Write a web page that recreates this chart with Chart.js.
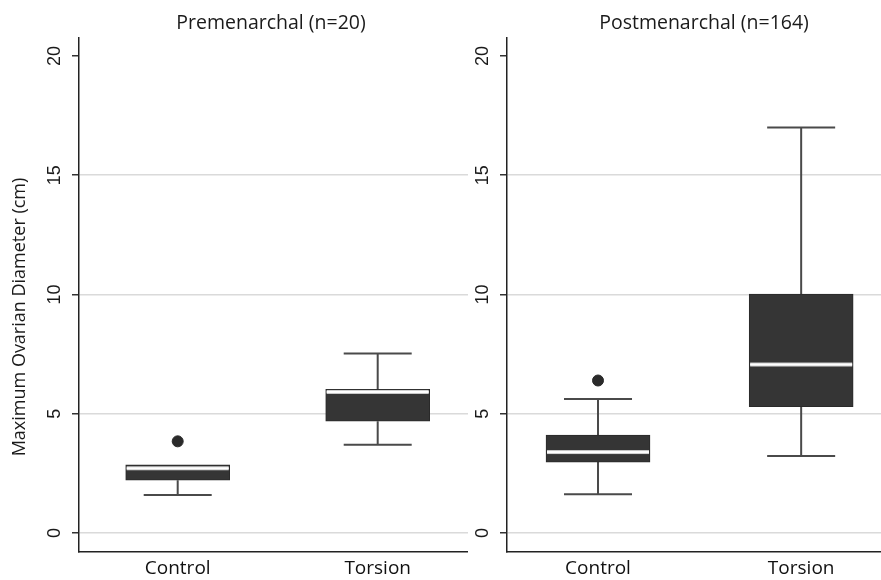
<!DOCTYPE html>
<html>
<head>
<meta charset="utf-8">
<script src="https://cdn.jsdelivr.net/npm/chart.js@4"></script>
<style>
  html, body { margin: 0; padding: 0; background: #fff; }
  #wrap { position: relative; width: 881px; height: 580px; }
  .panel { position: absolute; top: 0; }
</style>
</head>
<body>
<div id="wrap">
  <div class="panel" style="left:0"><canvas id="pre" width="468" height="580"></canvas></div>
  <div class="panel" style="left:468px"><canvas id="post" width="413" height="580"></canvas></div>
</div>
<script>
// datos
const groups = ['Control', 'Torsion'];
const yTicks = [0, 5, 10, 15, 20];

const preTitle = 'Premenarchal (n=20)';
const preMin = [1.59, 3.70];
const preQ1 = [2.21, 4.68];
const preMed = [2.71, 5.91];
const preQ3 = [2.85, 6.02];
const preMax = [2.85, 7.52];
const preOutGroup = [0];
const preOutValue = [3.84];

const postTitle = 'Postmenarchal (n=164)';
const postMin = [1.62, 3.23];
const postQ1 = [2.97, 5.29];
const postMed = [3.39, 7.06];
const postQ3 = [4.10, 10.01];
const postMax = [5.61, 17.0];
const postOutGroup = [0];
const postOutValue = [6.39];

const yTitle = 'Maximum Ovarian Diameter (cm)';

const boxColor = '#353535';
const lineColor = '#4a4a4a';
const textFont = '"Open Sans", sans-serif';

// bigotes y mediana
const boxPlugin = {
  id: 'boxExtras',
  beforeDatasetsDraw(chart, args, o) {
    const { ctx, scales: { x, y } } = chart;
    ctx.save();
    ctx.strokeStyle = lineColor;
    ctx.lineWidth = 2;
    o.q1.forEach((_, i) => {
      const cx = x.getPixelForValue(i);
      const segs = [[o.q3[i], o.max[i]], [o.q1[i], o.min[i]]];
      segs.forEach(([a, b]) => {
        if (a === b) return;
        const ya = y.getPixelForValue(a), yb = y.getPixelForValue(b);
        ctx.beginPath();
        ctx.moveTo(cx, ya);
        ctx.lineTo(cx, yb);
        ctx.moveTo(cx - o.capHalf, yb);
        ctx.lineTo(cx + o.capHalf, yb);
        ctx.stroke();
      });
    });
    ctx.restore();
  },
  afterDatasetsDraw(chart, args, o) {
    const { ctx, scales: { x, y } } = chart;
    ctx.save();
    o.med.forEach((m, i) => {
      const cx = x.getPixelForValue(i);
      const ym = y.getPixelForValue(m);
      ctx.fillStyle = '#cfcfcf';
      ctx.fillRect(cx - o.boxHalf + 1, ym - 2, o.boxHalf * 2 - 2, 4);
      ctx.fillStyle = '#ffffff';
      ctx.fillRect(cx - o.boxHalf + 1, ym - 1, o.boxHalf * 2 - 2, 2);
    });
    ctx.restore();
  }
};

// titulos y etiquetas rotadas
const textPlugin = {
  id: 'panelText',
  afterDraw(chart, args, o) {
    const { ctx, scales: { y } } = chart;
    ctx.save();
    ctx.fillStyle = '#1a1a1a';
    ctx.textAlign = 'center';
    ctx.textBaseline = 'middle';
    ctx.font = '19.5px ' + textFont;
    ctx.fillText(o.title, o.titleX, 23);

    ctx.font = '18px "Liberation Sans", Arial, sans-serif';
    yTicks.forEach(v => {
      ctx.save();
      ctx.translate(o.tickX, y.getPixelForValue(v));
      ctx.rotate(-Math.PI / 2);
      ctx.fillText(String(v), 0, 0);
      ctx.restore();
    });

    if (o.axisTitle) {
      ctx.font = '18px ' + textFont;
      ctx.translate(20, 317);
      ctx.rotate(-Math.PI / 2);
      ctx.fillText(o.axisTitle, 0, 0);
    }
    ctx.restore();
  }
};

function crearPanel(id, d) {
  const ctx = document.getElementById(id).getContext('2d');
  return new Chart(ctx, {
    type: 'bar',
    data: {
      datasets: [{
        label: 'box',
        data: d.q1.map((q, i) => ({ x: i, y: [q, d.q3[i]] })),
        backgroundColor: boxColor,
        borderColor: '#2a2a2a',
        borderWidth: 1,
        borderSkipped: false,
        barThickness: d.boxHalf * 2,
        order: 2
      }, {
        type: 'scatter',
        label: 'outliers',
        data: d.outGroup.map((g, i) => ({ x: g, y: d.outValue[i] })),
        backgroundColor: '#2a2a2a',
        borderColor: '#2a2a2a',
        pointRadius: 5.5,
        order: 1
      }]
    },
    options: {
      responsive: false,
      animation: false,
      layout: { autoPadding: false, padding: { top: 38, left: 0, right: 0, bottom: 0 } },
      plugins: {
        legend: { display: false },
        tooltip: { enabled: false },
        boxExtras: {
          q1: d.q1, q3: d.q3, med: d.med, min: d.min, max: d.max,
          boxHalf: d.boxHalf, capHalf: 34
        },
        panelText: { title: d.title, titleX: d.titleX, tickX: d.tickX, axisTitle: d.axisTitle }
      },
      scales: {
        x: {
          type: 'linear',
          offset: false,
          min: d.xMin,
          max: d.xMax,
          afterBuildTicks: s => { s.ticks = groups.map((g, i) => ({ value: i })); },
          afterFit: s => { s.height = 28; s.paddingLeft = 0; s.paddingRight = 0; },
          ticks: {
            callback: v => groups[v],
            font: { family: textFont, size: 19 },
            color: '#111',
            padding: 5,
            maxRotation: 0
          },
          grid: { display: false, drawTicks: false, tickLength: 0 },
          border: { display: true, color: '#222', width: 1.5 }
        },
        y: {
          min: -0.8,
          max: 20.75,
          afterBuildTicks: s => { s.ticks = yTicks.map(v => ({ value: v })); },
          afterFit: s => { s.width = d.yWidth; },
          ticks: { display: false },
          grid: {
            color: c => (c.tick && c.tick.value === 20) ? 'rgba(0,0,0,0)' : '#dadada',
            lineWidth: 1.5,
            tickLength: 7,
            tickColor: '#333',
            tickWidth: 1.5
          },
          border: { display: true, color: '#222', width: 1.5 }
        }
      }
    },
    plugins: [boxPlugin, textPlugin]
  });
}

crearPanel('pre', {
  title: preTitle, titleX: 271, tickX: 55, axisTitle: yTitle,
  q1: preQ1, q3: preQ3, med: preMed, min: preMin, max: preMax,
  outGroup: preOutGroup, outValue: preOutValue,
  boxHalf: 52, yWidth: 79, xMin: -0.4935, xMax: 1.4515
});

crearPanel('post', {
  title: postTitle, titleX: 236, tickX: 15, axisTitle: null,
  q1: postQ1, q3: postQ3, med: postMed, min: postMin, max: postMax,
  outGroup: postOutGroup, outValue: postOutValue,
  boxHalf: 52, yWidth: 39, xMin: -0.448, xMax: 1.393
});
</script>
</body>
</html>
